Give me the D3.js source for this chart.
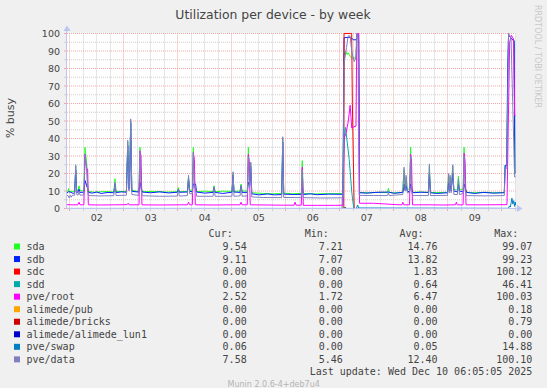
<!DOCTYPE html>
<html>
<head>
<meta charset="utf-8">
<script src="https://cdn.jsdelivr.net/npm/d3@7/dist/d3.min.js"></script>
<style>
	body { margin: 0; background: #f0f0f0; }
	svg { display: block; }
	.mono { font-family: 'DejaVu Sans Mono', monospace; font-size: 10px; fill: #444; }
	.sans { font-family: 'DejaVu Sans', sans-serif; fill: #444; }
</style>
</head>
<body>
<div id="canvas"></div>
<script>

// Series data: [hours since Tue Dec 2 00:00, % busy]
var sda = [[-1.2,9.6],[-0.8,9.4],[-0.5,11.4],[-0.2,9.5],[1.0,9.9],[2.2,9.6],[2.67,24],[3.1,10.5],[3.7,10.2],[4.13,13],[4.6,10.4],[6.3,10],[6.8,35],[7.2,30],[7.5,27],[8.0,14],[8.3,9.8],[11,9.3],[15,9.7],[19.6,9.5],[20.13,17],[20.6,9.7],[25.2,9.8],[25.78,38],[26.3,12],[26.6,14],[27.11,50],[27.6,10.5],[30.7,9.6],[31.24,35],[31.7,14],[32.2,9.6],[38,9.8],[43,9.4],[47.8,9.6],[48.27,12],[48.7,9.5],[52.3,9.8],[52.8,18],[53.3,10.5],[54.5,10.4],[54.93,35],[55.4,14],[56.2,9.6],[60,9.9],[63.7,9.7],[64.13,13],[64.6,9.6],[68,9.9],[72.1,9.8],[72.58,20],[73.0,9.8],[75.7,10],[76.13,14],[76.6,10],[78.9,10],[79.38,35],[79.9,14],[80.44,26],[80.9,9.0],[86,8.6],[90,8.4],[94.2,8.6],[94.67,40],[95.1,8.8],[99,8.4],[102.9,8.6],[103.33,27.4],[103.8,8.6],[108,8.3],[114,8.5],[121.4,8.5],[121.9,88],[122.6,90],[123.2,88],[123.7,89],[124.6,87],[125.3,86],[126.4,86],[127.1,85.5],[127.7,99],[128.4,96],[128.8,9.2],[133,8.9],[137,9.3],[141.2,9.1],[141.6,11.5],[142,9.2],[145,8.9],[147.8,9.2],[148.58,22],[149.0,12],[149.47,18],[150.0,11],[151.0,11],[151.47,35],[151.9,14],[152.4,9.3],[156,9.4],[159.4,9.2],[159.82,24],[160.3,9.2],[164,9.1],[167.9,9.3],[168.36,19],[168.7,11],[169.02,18],[169.5,11],[170.22,24],[170.7,11],[172.3,10.5],[172.71,18.5],[173.2,11],[174.8,11],[175.24,35],[175.7,13],[176.3,9.3],[180,9.0],[185,9.3],[189,8.9],[193.1,9.2],[193.47,24.6],[194.2,24.6],[194.6,70],[195.0,99],[196.3,97],[197.5,95],[197.8,20],[198.1,20]];

var sdb = [[-1.2,8.8],[-0.5,9.6],[0.5,9.3],[1.5,8.6],[2.2,9.0],[2.67,22],[3.1,9.4],[3.7,9.3],[4.13,11],[4.6,9.2],[6.3,9.3],[6.8,16],[7.3,14],[7.8,12],[8.3,9.2],[10,8.8],[12,9.4],[14,8.6],[17,9.2],[19.6,9.0],[20.13,14],[20.6,9.1],[23,9.5],[25.2,9.3],[25.78,36],[26.3,11],[26.6,12],[27.11,49],[27.6,9.8],[30.7,9.4],[31.24,15],[31.7,12],[32.2,9.4],[36,9.0],[40,9.5],[44,8.9],[47.8,9.3],[48.27,11],[48.7,9.3],[52.3,9.4],[52.8,17],[53.3,9.8],[54.5,9.6],[54.93,14],[55.91,14],[56.4,9.4],[60,8.8],[63.7,9.2],[64.13,12],[64.6,9.2],[68,8.6],[72.1,9.3],[72.58,19],[73,9.4],[75.7,9.2],[76.13,13],[76.6,9.2],[78.9,9.2],[79.38,15],[80.0,13],[80.44,24],[80.9,8.4],[84,7.8],[88,8.3],[91,7.8],[94.2,8.0],[94.67,38],[95.1,8.2],[100,8.0],[102.9,8.1],[103.33,12],[103.8,8.0],[107,8.4],[110,7.9],[115,8.2],[121.4,8.1],[121.9,97.6],[124.6,97.8],[126.2,96.4],[127.3,96.4],[127.7,99.2],[128.4,99.2],[128.8,9.0],[132,8.8],[136,9.2],[141.6,9.4],[144,8.7],[148.1,9.2],[148.58,14],[149.0,10.5],[149.47,13],[150.0,10],[151.0,9.5],[151.47,14],[152.4,9.0],[156,9.3],[159.4,9.2],[159.82,20],[160.3,9.0],[163,8.6],[167.9,9.0],[168.36,15],[168.7,10],[169.02,14],[169.5,10],[170.22,20],[170.7,10],[172.3,9.5],[172.71,14],[173.2,10],[174.8,9.5],[175.24,14],[176.3,9.2],[180,8.6],[184,9.2],[188,8.8],[193.1,9.0],[193.47,24.6],[194.2,24.6],[194.6,80],[195.0,99.2],[196.4,97],[197.5,96],[197.8,20.7],[198.1,20.7]];

var sdc = [[-1.2,0],[121.8,0],[121.9,100],[125.3,100.1],[125.6,60],[126.4,0],[198.1,0]];

var sdd = [[-1.2,0],[121.0,0],[121.5,20],[122.2,44],[122.5,46.4],[123.3,38],[124.2,28],[125.3,10],[125.8,4],[126.3,0],[198.1,0]];

var pveRoot = [[-1.2,2.2],[1,2.1],[3.6,2.1],[4.13,3.6],[4.6,2.1],[6.3,2.1],[6.8,31],[7.2,26],[7.6,23],[8.0,22],[8.27,2.1],[14,2.0],[20,2.1],[25.5,2.2],[26,3.0],[26.4,2.1],[30.8,2.1],[31.24,33],[31.7,30],[32.1,2.1],[40,2.0],[48,2.1],[52.3,2.1],[52.8,3.6],[53.3,2.1],[54.5,2.1],[54.93,32],[55.4,28],[55.8,2.1],[64,2.0],[72,2.1],[75.7,2.1],[76.13,3.6],[76.6,2.1],[78.9,2.1],[79.38,31],[79.8,27],[80.2,2.1],[88,2.0],[95,1.9],[99.7,1.9],[100.13,3.6],[100.6,1.9],[102.9,1.9],[103.33,23.6],[103.8,1.8],[110,1.8],[118,1.8],[121.5,1.9],[121.9,40],[122.8,43],[123.8,50],[124.6,59],[125.0,52],[125.3,46],[126.8,47],[127.2,47],[127.6,100],[128.4,100],[128.8,3.0],[135,3.0],[140,2.6],[145,2.2],[147.6,2.1],[148.0,3.6],[148.4,2.1],[151.0,2.1],[151.47,31],[151.9,27],[152.3,2.1],[160,2.1],[166,2.0],[171.4,2.1],[171.8,3.6],[172.2,2.1],[174.8,2.1],[175.24,31.6],[175.7,27],[176.1,2.1],[185,2.1],[194.3,2.2],[194.9,50],[195.5,95],[196.2,99],[197.2,97],[197.7,53],[198.1,53]];

var alimedePub = [[-1.2,0],[121.6,0],[122.2,0.18],[122.8,0],[198.1,0]];
var alimedeBricks = [[-1.2,0],[122.0,0],[122.4,0.79],[123.0,0],[198.1,0]];
var alimedeLun1 = [[-1.2,0],[198.1,0]];

var pveSwap = [[-1.2,0.05],[121.5,0.05],[122.3,0.4],[123,0.05],[127.4,0.05],[127.9,2],[128.4,0.3],[195.0,0.1],[195.4,1.5],[195.8,0.8],[196.5,5.9],[196.9,2.5],[197.3,4.5],[197.7,1.2],[198.0,3.6],[198.1,2]];

var pveData = [[-1.2,7.6],[-0.6,7.2],[-0.3,6.0],[0.3,7.5],[0.7,6.4],[1.1,7.6],[2.2,7.5],[2.67,25],[3.1,8],[3.7,7.6],[4.13,10],[4.6,7.6],[6.3,7.8],[6.8,31],[7.2,26],[7.5,22],[8.0,10],[8.3,7.4],[13,7.2],[19.6,7.3],[20.13,15],[20.6,7.4],[25.2,7.6],[25.78,39],[26.3,10],[26.6,12],[27.11,51.2],[27.6,8],[30.7,7.5],[31.24,33],[31.7,11],[32.2,7.3],[40,7.0],[47.8,7.1],[48.27,11],[48.7,7.1],[52.3,7.4],[52.8,19],[53.3,8.5],[54.5,8.4],[54.93,32],[55.4,12],[55.91,13],[56.4,7.0],[63.7,7.0],[64.13,12.5],[64.6,7.0],[72.1,7.0],[72.58,21],[73.0,7.0],[75.7,7.2],[76.13,13],[76.6,7.0],[78.9,7.2],[79.38,30],[79.9,12],[80.44,26.5],[80.9,6.6],[86,6.3],[94.2,6.2],[94.67,41],[95.1,6.3],[102.9,6.2],[103.33,22],[103.8,6.2],[112,6.0],[121.5,6.1],[121.9,83],[123.0,92],[123.7,98.6],[124.6,98.6],[125.3,90],[126.4,84],[127.1,86],[127.6,100.1],[128.1,99],[128.6,7.5],[135,7.4],[141.2,7.4],[141.6,9],[142,7.4],[148.0,8],[148.58,23.6],[149.0,10],[149.47,19],[150,9],[151.0,9],[151.47,30],[151.9,10],[152.4,7.4],[159.4,7.4],[159.82,25.5],[160.3,7.4],[167.9,7.5],[168.36,20],[168.7,9],[169.02,19],[169.5,9],[170.22,25],[170.7,8],[172.3,8],[172.71,17],[173.2,8],[174.8,8.5],[175.24,30],[175.7,10],[176.3,7.4],[185,7.2],[193.1,7.4],[193.47,22],[194.2,23],[194.6,60],[195.0,100.1],[196.1,97],[197.7,18],[198.1,18]];

// Legend
var names = ['sda', 'sdb', 'sdc', 'sdd', 'pve/root', 'alimede/pub', 'alimede/bricks', 'alimede/alimede_lun1', 'pve/swap', 'pve/data'];
var colors = ['#22ff22', '#0022ff', '#ff0000', '#00aaaa', '#ff00ff', '#ffa500', '#cc0000', '#0000cc', '#0080c0', '#8080c0'];
var curVals = [9.54, 9.11, 0.00, 0.00, 2.52, 0.00, 0.00, 0.00, 0.06, 7.58];
var minVals = [7.21, 7.07, 0.00, 0.00, 1.72, 0.00, 0.00, 0.00, 0.00, 5.46];
var avgVals = [14.76, 13.82, 1.83, 0.64, 6.47, 0.00, 0.00, 0.00, 0.05, 12.40];
var maxVals = [99.07, 99.23, 100.12, 46.41, 100.03, 0.18, 0.79, 0.00, 14.88, 100.10];

// Tick labels
var dayLabels = ['02', '03', '04', '05', '06', '07', '08', '09'];
var yTicks = [0, 10, 20, 30, 40, 50, 60, 70, 80, 90, 100];

var series = [sda, sdb, sdc, sdd, pveRoot, alimedePub, alimedeBricks, alimedeLun1, pveSwap, pveData];

(function() {

	var W = 547, H = 388,
		pLeft = 67, pRight = 515.5, pTop = 33.5, pBottom = 208.5,
		base = new Date(2025, 11, 2),
		t0 = new Date(2025, 11, 1, 22, 48),
		t1 = new Date(2025, 11, 10, 6, 5),
		majorColor = '#f4a6a6',
		minorColor = '#cfcfcf',
		axisColor = '#bcc4f0';

	var svg = d3.select('#canvas').append('svg').attr('width', W).attr('height', H);

	var x = d3.scaleTime().domain([t0, t1]).range([pLeft, pRight]),
		y = d3.scaleLinear().domain([0, 100]).range([pBottom, pTop]);

	function toDate(h) {
		return new Date(base.getTime() + h * 3600e3);
	}
	function crisp(v) {
		return Math.floor(v) + 0.5;
	}

	// Canvas
	svg.append('rect').attr('width', W).attr('height', H).attr('fill', '#f0f0f0');
	svg.append('rect')
		.attr('x', pLeft).attr('y', pTop - 0.5)
		.attr('width', pRight - pLeft).attr('height', pBottom - pTop + 0.5)
		.attr('fill', '#fff');

	var grid = svg.append('g').attr('stroke-dasharray', '1,1').attr('stroke-width', 1).attr('fill', 'none');

	// Minor grid
	var minorY = d3.range(5, 100, 10);
	grid.selectAll('.minor-y').data(minorY).enter().append('line')
		.attr('x1', pLeft).attr('x2', pRight)
		.attr('y1', function(d) { return y(d); }).attr('y2', function(d) { return y(d); })
		.attr('stroke', minorColor);
	var sixHours = d3.timeHour.every(6).range(t0, t1).filter(function(d) { return d.getHours() !== 0; });
	grid.selectAll('.minor-x').data(sixHours).enter().append('line')
		.attr('x1', function(d) { return crisp(x(d)); }).attr('x2', function(d) { return crisp(x(d)); })
		.attr('y1', pTop).attr('y2', pBottom)
		.attr('stroke', minorColor);

	// Major grid
	grid.selectAll('.major-y').data(yTicks.slice(1)).enter().append('line')
		.attr('x1', pLeft).attr('x2', pRight)
		.attr('y1', function(d) { return y(d); }).attr('y2', function(d) { return y(d); })
		.attr('stroke', majorColor);
	var days = d3.timeDay.range(t0, t1);
	grid.selectAll('.major-x').data(days).enter().append('line')
		.attr('x1', function(d) { return crisp(x(d)); }).attr('x2', function(d) { return crisp(x(d)); })
		.attr('y1', pTop).attr('y2', pBottom)
		.attr('stroke', majorColor);

	// Ticks outside the axes
	var ticks = svg.append('g').attr('stroke-width', 1);
	ticks.selectAll('.ty').data(d3.range(0, 101, 5)).enter().append('line')
		.attr('x1', pLeft - 3).attr('x2', pLeft)
		.attr('y1', function(d) { return y(d); }).attr('y2', function(d) { return y(d); })
		.attr('stroke', function(d) { return d % 10 ? minorColor : majorColor; });
	ticks.selectAll('.tx').data(d3.timeHour.every(6).range(t0, t1)).enter().append('line')
		.attr('x1', function(d) { return crisp(x(d)); }).attr('x2', function(d) { return crisp(x(d)); })
		.attr('y1', pBottom).attr('y2', pBottom + 2.5)
		.attr('stroke', function(d) { return d.getHours() ? minorColor : majorColor; });

	// Tick labels
	svg.selectAll('.ylab').data(yTicks).enter().append('text')
		.attr('class', 'sans')
		.attr('x', 60).attr('y', function(d) { return y(d) + 3.5; })
		.attr('text-anchor', 'end').attr('font-size', 9.5)
		.text(function(d) { return d; });
	svg.selectAll('.xlab').data(days.slice(0, dayLabels.length)).enter().append('text')
		.attr('class', 'sans')
		.attr('x', function(d) { return x(d3.timeHour.offset(d, 12)); }).attr('y', 221)
		.attr('text-anchor', 'middle').attr('font-size', 9.5)
		.text(function(d, i) { return dayLabels[i]; });

	// Data lines
	svg.append('clipPath').attr('id', 'plot')
		.append('rect').attr('x', pLeft).attr('y', pTop - 1).attr('width', pRight - pLeft + 1).attr('height', pBottom - pTop + 1.5);
	var line = d3.line()
		.x(function(d) { return x(toDate(d[0])); })
		.y(function(d) { return y(d[1]); });
	svg.append('g').attr('clip-path', 'url(#plot)')
		.selectAll('path').data(series).enter().append('path')
		.attr('d', line)
		.attr('fill', 'none')
		.attr('stroke', function(d, i) { return colors[i]; })
		.attr('stroke-width', 1);

	// Axis lines and arrows, drawn over the data
	svg.append('line').attr('x1', pLeft - 0.5).attr('x2', pLeft - 0.5).attr('y1', pBottom).attr('y2', 30)
		.attr('stroke', axisColor);
	svg.append('line').attr('x1', pLeft - 0.5).attr('x2', 518).attr('y1', pBottom).attr('y2', pBottom)
		.attr('stroke', axisColor);
	svg.append('path').attr('d', 'M63.5,31L70.5,31L67,25.5Z').attr('fill', axisColor);
	svg.append('path').attr('d', 'M517,205L517,212L522.5,208.5Z').attr('fill', axisColor);

	// Title and axis caption
	svg.append('text').attr('class', 'sans')
		.attr('x', 273).attr('y', 19).attr('text-anchor', 'middle').attr('font-size', 12.4)
		.text('Utilization per device - by week');
	svg.append('text').attr('class', 'sans')
		.attr('transform', 'translate(14,118) rotate(-90)')
		.attr('text-anchor', 'middle').attr('font-size', 11)
		.text('% busy');
	svg.append('text').attr('class', 'sans')
		.attr('transform', 'translate(534.5,5) rotate(90)')
		.attr('font-size', 8).style('fill', '#c8c8c8')
		.text('RRDTOOL / TOBI OETIKER');

	// Legend
	var fmt = d3.format('.2f'),
		rowY0 = 250, rowStep = 12.54,
		colEnds = [246.7, 342.9, 437.6, 532.4],
		headers = ['Cur:', 'Min:', 'Avg:', 'Max:'],
		columns = [curVals, minVals, avgVals, maxVals];

	var legend = svg.append('g');
	headers.forEach(function(h, c) {
		legend.append('text').attr('class', 'mono')
			.attr('x', colEnds[c] - 14).attr('y', rowY0 - rowStep).attr('text-anchor', 'end')
			.text(h);
	});
	names.forEach(function(n, i) {
		var yy = rowY0 + i * rowStep;
		legend.append('rect').attr('x', 14).attr('y', yy - 6.5).attr('width', 6).attr('height', 6)
			.attr('fill', colors[i]);
		legend.append('text').attr('class', 'mono').attr('x', 26.5).attr('y', yy).text(n);
		columns.forEach(function(col, c) {
			legend.append('text').attr('class', 'mono')
				.attr('x', colEnds[c]).attr('y', yy).attr('text-anchor', 'end')
				.text(fmt(col[i]));
		});
	});
	legend.append('text').attr('class', 'mono')
		.attr('x', 532.4).attr('y', 375).attr('text-anchor', 'end')
		.text('Last update: Wed Dec 10 06:05:05 2025');
	legend.append('text').attr('class', 'sans')
		.attr('x', 273.7).attr('y', 387).attr('text-anchor', 'middle').attr('font-size', 8)
		.style('fill', '#b4b4b4')
		.text('Munin 2.0.6-4+deb7u4');

})();

</script>
</body>
</html>
